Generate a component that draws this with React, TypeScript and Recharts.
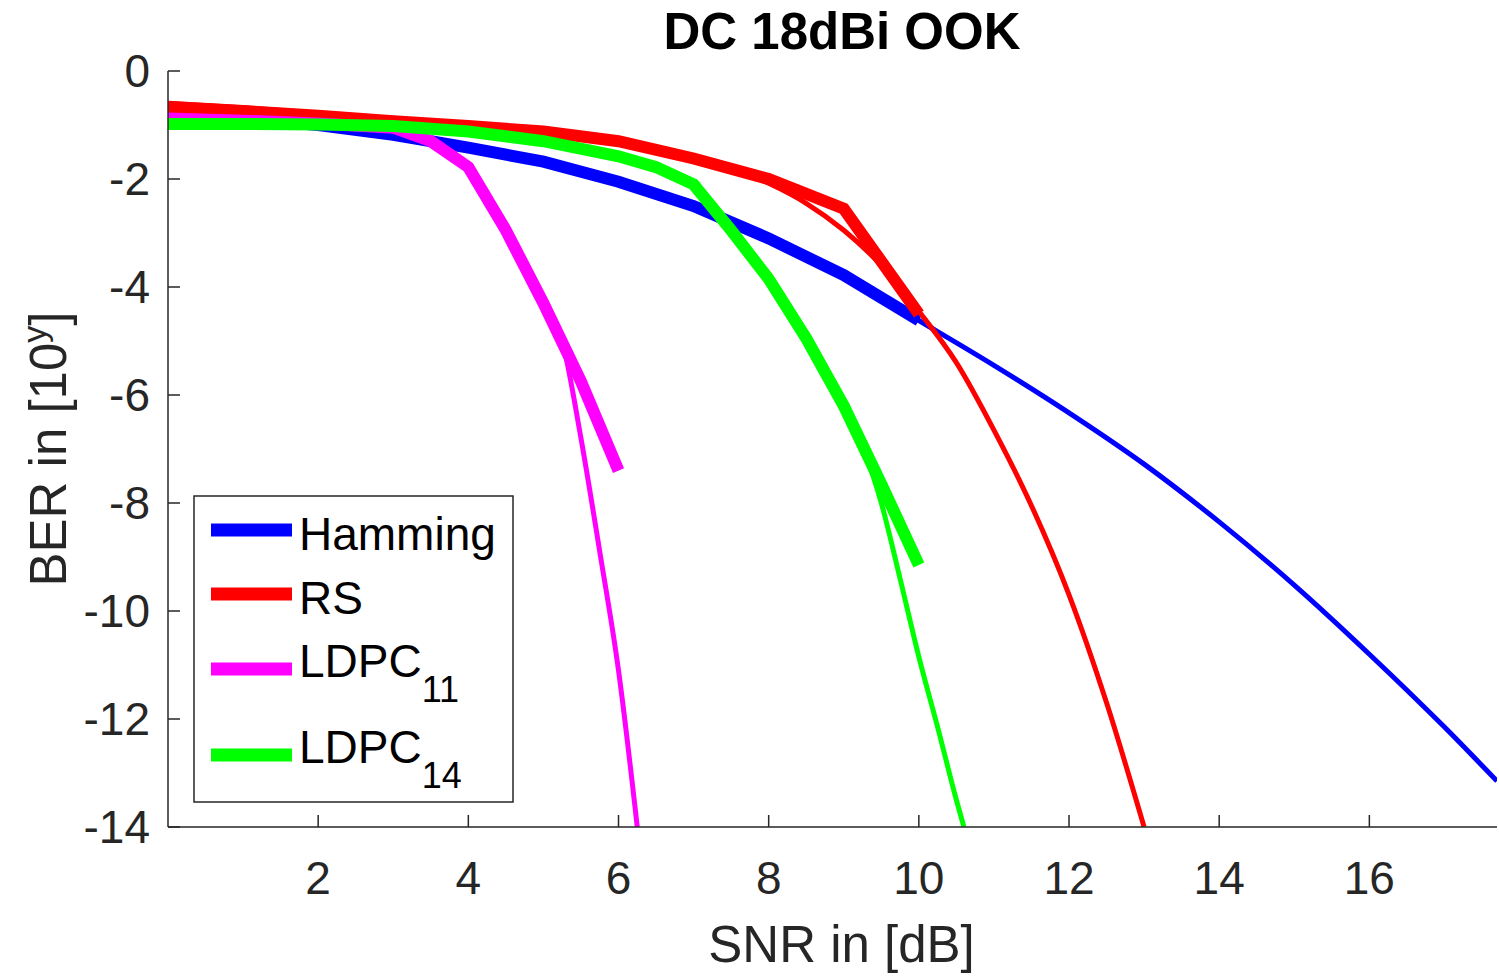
import React from 'react';
import { LineChart, Line, XAxis, YAxis, Legend } from 'recharts';

const FONT = '"Liberation Sans", Arial, Helvetica, sans-serif';
const AXIS_COLOR = '#262626';

// axis ticks
const xTicks = [2, 4, 6, 8, 10, 12, 14, 16];
const yTicks = [0, -2, -4, -6, -8, -10, -12, -14];

// Hamming: measured (thick) and fitted (thin)
const hammingMeasSnr = [0, 1, 2, 3, 4, 5, 6, 7, 8, 9, 10];
const hammingMeasBer = [-0.82, -0.88, -1.0, -1.18, -1.42, -1.68, -2.05, -2.5, -3.1, -3.78, -4.62];
const hammingFitSnr = [0, 1, 2, 3, 4, 5, 6, 7, 8, 9, 10, 11, 12, 13, 14, 15, 16, 17, 17.7];
const hammingFitBer = [-0.8, -0.87, -0.99, -1.17, -1.42, -1.7, -2.05, -2.5, -3.08, -3.8, -4.62, -5.45, -6.33, -7.28, -8.35, -9.52, -10.8, -12.15, -13.15];

// RS
const rsMeasSnr = [0, 1, 2, 3, 4, 5, 6, 7, 8, 9, 10];
const rsMeasBer = [-0.66, -0.74, -0.83, -0.93, -1.02, -1.12, -1.3, -1.62, -2.0, -2.55, -4.5];
const rsFitSnr = [0, 1, 2, 3, 4, 5, 6, 7, 8, 8.5, 9, 9.5, 10, 10.5, 11, 11.5, 12, 12.5, 13];
const rsFitBer = [-0.6, -0.68, -0.78, -0.88, -0.98, -1.1, -1.28, -1.6, -2.08, -2.45, -2.95, -3.6, -4.45, -5.4, -6.65, -8.05, -9.7, -11.7, -14.0];

// LDPC 11
const ldpc11MeasSnr = [0, 1, 2, 3, 3.5, 4, 4.5, 5, 5.5, 6];
const ldpc11MeasBer = [-0.88, -0.92, -0.97, -1.05, -1.3, -1.78, -2.95, -4.3, -5.75, -7.4];
const ldpc11FitSnr = [0, 1, 2, 3, 3.5, 4, 4.5, 5, 5.25, 5.5, 5.75, 6, 6.25];
const ldpc11FitBer = [-0.86, -0.9, -0.96, -1.05, -1.3, -1.75, -2.9, -4.25, -5.0, -6.8, -8.9, -11.1, -14.0];

// LDPC 14
const ldpc14MeasSnr = [0, 1, 2, 3, 4, 5, 6, 6.5, 7, 7.5, 8, 8.5, 9, 9.5, 10];
const ldpc14MeasBer = [-0.98, -0.98, -0.99, -1.02, -1.12, -1.3, -1.58, -1.78, -2.1, -2.95, -3.85, -4.95, -6.2, -7.65, -9.15];
const ldpc14FitSnr = [0, 1, 2, 3, 4, 5, 6, 6.5, 7, 7.5, 8, 8.5, 9, 9.25, 9.5, 9.75, 10, 10.25, 10.5, 10.6];
const ldpc14FitBer = [-0.98, -0.98, -0.99, -1.02, -1.12, -1.3, -1.58, -1.78, -2.1, -2.95, -3.85, -4.95, -6.2, -6.95, -8.0, -9.4, -10.85, -12.15, -13.5, -14.0];

const toPoints = (snr: number[], ber: number[]) => snr.map((x, i) => ({ snr: x, ber: ber[i] }));

const series = [
  { name: 'Hamming', sub: '', color: '#0000ff', meas: toPoints(hammingMeasSnr, hammingMeasBer), fit: toPoints(hammingFitSnr, hammingFitBer) },
  { name: 'RS', sub: '', color: '#ff0000', meas: toPoints(rsMeasSnr, rsMeasBer), fit: toPoints(rsFitSnr, rsFitBer) },
  { name: 'LDPC', sub: '11', color: '#ff00ff', meas: toPoints(ldpc11MeasSnr, ldpc11MeasBer), fit: toPoints(ldpc11FitSnr, ldpc11FitBer) },
  { name: 'LDPC', sub: '14', color: '#00ff00', meas: toPoints(ldpc14MeasSnr, ldpc14MeasBer), fit: toPoints(ldpc14FitSnr, ldpc14FitBer) },
];

// MATLAB style ticks pointing into the plot
const XTick = (props: any) => {
  const { x, y, payload } = props;
  return (
    <g>
      <line x1={x} y1={y} x2={x} y2={y - 12} stroke={AXIS_COLOR} strokeWidth={1.5} />
      <text x={x} y={y + 67} textAnchor="middle" fontSize={46} fontFamily={FONT} fill={AXIS_COLOR}>
        {payload.value}
      </text>
    </g>
  );
};

const YTick = (props: any) => {
  const { x, y, payload } = props;
  return (
    <g>
      <line x1={x} y1={y} x2={x + 12} y2={y} stroke={AXIS_COLOR} strokeWidth={1.5} />
      <text x={x - 18} y={y + 16} textAnchor="end" fontSize={46} fontFamily={FONT} fill={AXIS_COLOR}>
        {payload.value}
      </text>
    </g>
  );
};

const XLabel = (props: any) => {
  const { viewBox } = props;
  return (
    <text x={viewBox.x + viewBox.width / 2 + 9} y={viewBox.y + 135} textAnchor="middle" fontSize={51} fontFamily={FONT} fill={AXIS_COLOR}>
      SNR in [dB]
    </text>
  );
};

const YLabel = (props: any) => {
  const { viewBox } = props;
  const cx = viewBox.x - 42;
  const cy = viewBox.y + viewBox.height / 2;
  return (
    <text transform={`translate(${cx},${cy}) rotate(-90)`} textAnchor="middle" fontSize={51} fontFamily={FONT} fill={AXIS_COLOR}>
      BER in [10
      <tspan dy={-20} fontSize={34}>y</tspan>
      <tspan dy={20}>]</tspan>
    </text>
  );
};

const renderLegend = () => {
  const rowLine = [35, 99, 174, 260];
  const rowText = [55, 119, 182, 268];
  return (
    <svg width={322} height={309} style={{ display: 'block' }}>
      <rect x={1} y={1} width={319} height={306} fill="#ffffff" stroke={AXIS_COLOR} strokeWidth={1.5} />
      {series.map((s, i) => (
        <g key={i}>
          <line x1={18} x2={99} y1={rowLine[i]} y2={rowLine[i]} stroke={s.color} strokeWidth={13} />
          <text x={106} y={rowText[i]} fontSize={46} fontFamily={FONT} fill="#000">
            {s.name}
            {s.sub && (
              <tspan dy={25} fontSize={36}>
                {s.sub}
              </tspan>
            )}
          </text>
        </g>
      ))}
    </svg>
  );
};

export default function App() {
  return (
    <div style={{ position: 'absolute', left: 0, top: 0, width: 1499, height: 976, background: '#fff' }}>
      <div
        style={{
          position: 'absolute',
          left: 442,
          top: 6,
          width: 800,
          textAlign: 'center',
          fontFamily: FONT,
          fontWeight: 'bold',
          fontSize: 51,
          lineHeight: '51px',
          color: '#000',
          zIndex: 2,
        }}
      >
        DC 18dBi OOK
      </div>
      <LineChart width={1499} height={976} margin={{ top: 71, right: 2, bottom: 89, left: 108 }}>
        <XAxis
          dataKey="snr"
          type="number"
          domain={[0, 17.7]}
          ticks={xTicks}
          allowDataOverflow
          height={60}
          tickSize={0}
          tickMargin={0}
          tickLine={false}
          axisLine={{ stroke: AXIS_COLOR, strokeWidth: 1.5 }}
          tick={<XTick />}
          interval={0}
          label={{ content: <XLabel /> }}
        />
        <YAxis
          type="number"
          domain={[-14, 0]}
          ticks={yTicks}
          allowDataOverflow
          width={60}
          tickSize={0}
          tickMargin={0}
          tickLine={false}
          axisLine={{ stroke: AXIS_COLOR, strokeWidth: 1.5 }}
          tick={<YTick />}
          interval={0}
          label={{ content: <YLabel /> }}
        />
        <Legend
          layout="vertical"
          align="center"
          verticalAlign="middle"
          content={renderLegend}
          wrapperStyle={{ position: 'absolute', left: 193, top: 495, width: 322, height: 309 }}
        />
        {series.map((s, i) => [
          <Line
            key={`fit-${i}`}
            data={s.fit}
            dataKey="ber"
            type="monotone"
            stroke={s.color}
            strokeWidth={5}
            dot={false}
            activeDot={false}
            legendType="none"
            isAnimationActive={false}
          />,
          <Line
            key={`meas-${i}`}
            data={s.meas}
            dataKey="ber"
            type="linear"
            stroke={s.color}
            strokeWidth={12}
            dot={false}
            activeDot={false}
            isAnimationActive={false}
          />,
        ])}
      </LineChart>
    </div>
  );
}
